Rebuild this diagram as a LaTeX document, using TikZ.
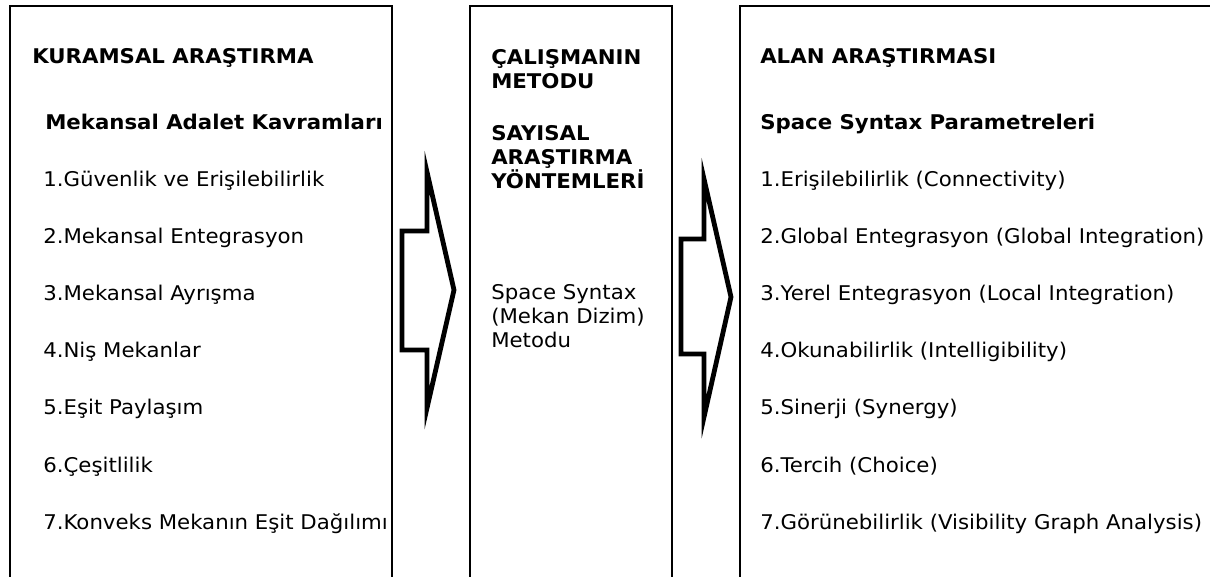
\documentclass[tikz,border=0pt]{standalone}
\usepackage{fontspec}
\setmainfont{DejaVu Sans}[FakeStretch=1.05]
\begin{document}
\begin{tikzpicture}[x=0.75pt,y=-0.75pt,
  box/.style={draw=black,line width=1.5pt,fill=none},
  bigarrow/.style={draw=black,line width=3.6pt,line join=miter,miter limit=12},
  txt/.style={anchor=base west,inner sep=0pt,font=\fontsize{15.2pt}{18pt}\selectfont},
  btxt/.style={txt,font=\fontsize{15.2pt}{18pt}\selectfont\bfseries}]
\useasboundingbox (0,0) rectangle (1210,576);
\clip (0,0) rectangle (1210,576);
% boxes (open at the bottom, run past the picture's edge)
\node[box,anchor=north west,minimum width=382*0.75pt,minimum height=600*0.75pt,inner sep=0pt] (L) at (9,5) {};
\node[box,anchor=north west,minimum width=202*0.75pt,minimum height=600*0.75pt,inner sep=0pt] (M) at (469,5) {};
\node[box,anchor=north west,minimum width=480*0.75pt,minimum height=600*0.75pt,inner sep=0pt] (R) at (739,5) {};
% block arrows
\draw[bigarrow] (402,231) -- (427,231) -- (427,172) -- (454,290) -- (427,408) -- (427,350) -- (402,350) -- cycle;
\draw[bigarrow] (681,239) -- (704,239) -- (704,179) -- (731,297) -- (704,417) -- (704,354) -- (681,354) -- cycle;
% left column
\node[btxt] (l0) at (32,63) {KURAMSAL ARAŞTIRMA};
\node[btxt] (l1) at (45,129) {Mekansal Adalet Kavramları};
\node[txt] (l2) at (43,186) {1.Güvenlik ve Erişilebilirlik};
\node[txt] (l3) at (43,243.2) {2.Mekansal Entegrasyon};
\node[txt] (l4) at (43,300.4) {3.Mekansal Ayrışma};
\node[txt] (l5) at (43,357.6) {4.Niş Mekanlar};
\node[txt] (l6) at (43,414.8) {5.Eşit Paylaşım};
\node[txt] (l7) at (43,472) {6.Çeşitlilik};
\node[txt] (l8) at (43,529.2) {7.Konveks Mekanın Eşit Dağılımı};
% middle column
\node[btxt] (m0) at (491,64) {ÇALIŞMANIN};
\node[btxt] (m1) at (491,88) {METODU};
\node[btxt] (m2) at (491,140) {SAYISAL};
\node[btxt] (m3) at (491,164) {ARAŞTIRMA};
\node[btxt] (m4) at (491,188) {YÖNTEMLERİ};
\node[txt] (m5) at (491,299) {Space Syntax};
\node[txt] (m6) at (491,323) {(Mekan Dizim)};
\node[txt] (m7) at (491,347) {Metodu};
% right column
\node[btxt] (r0) at (760,63) {ALAN ARAŞTIRMASI};
\node[btxt] (r1) at (760,129) {Space Syntax Parametreleri};
\node[txt] (r2) at (760,186) {1.Erişilebilirlik (Connectivity)};
\node[txt] (r3) at (760,243.2) {2.Global Entegrasyon (Global Integration)};
\node[txt] (r4) at (760,300.4) {3.Yerel Entegrasyon (Local Integration)};
\node[txt] (r5) at (760,357.6) {4.Okunabilirlik (Intelligibility)};
\node[txt] (r6) at (760,414.8) {5.Sinerji (Synergy)};
\node[txt] (r7) at (760,472) {6.Tercih (Choice)};
\node[txt] (r8) at (760,529.2) {7.Görünebilirlik (Visibility Graph Analysis)};
\end{tikzpicture}
\end{document}
